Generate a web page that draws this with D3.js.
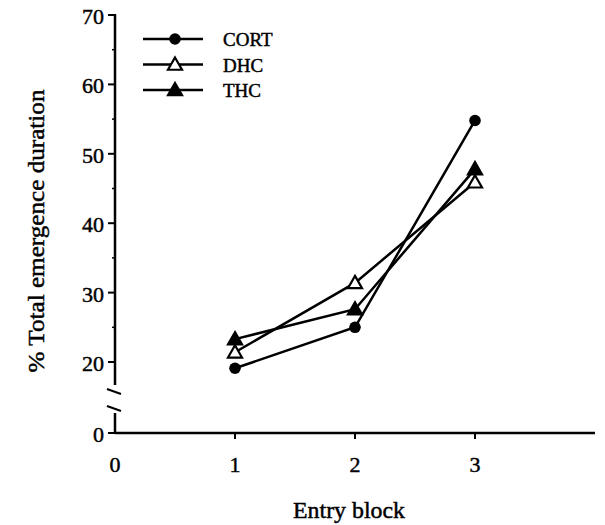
<!DOCTYPE html>
<html>
<head>
<meta charset="utf-8">
<script src="https://cdn.jsdelivr.net/npm/d3@7"></script>
<style>
  body { margin: 0; background: #fff; }
  text { font-family: "Liberation Serif", "DejaVu Serif", serif; fill: #000; stroke: #000; stroke-width: 0.45px; }
</style>
</head>
<body>
<svg id="chart" width="605" height="525"></svg>
<script>
// data
const blocks = [1, 2, 3];
const cort = [19.1, 25.0, 54.8];
const dhc = [21.4, 31.4, 45.9];
const thc = [23.3, 27.6, 47.8];
const seriesNames = ['CORT', 'DHC', 'THC'];
const xTicks = [0, 1, 2, 3];
const yTicks = [0, 20, 30, 40, 50, 60, 70];
const yMinor = [25, 35, 45, 55, 65];

const series = [
  { name: 'CORT', values: cort, marker: 'circle' },
  { name: 'DHC', values: dhc, marker: 'triangleOpen' },
  { name: 'THC', values: thc, marker: 'triangle' }
];

const svg = d3.select('#chart');

const x = d3.scaleLinear().domain([0, 4]).range([115, 595]);
// broken axis: the data part of the scale, plus the compressed 0..20 stretch below the break
const yTop = d3.scaleLinear().domain([20, 70]).range([362, 15]);
const yLow = d3.scaleLinear().domain([0, 20]).range([433, 362]);
const yTick = d => d < 20 ? yLow(d) : yTop(d);

// x axis
const xAxis = svg.append('g').attr('transform', 'translate(0,433)');
xAxis.append('line')
  .attr('x1', x(0)).attr('x2', x(4))
  .attr('stroke', '#000').attr('stroke-width', 2.5);
xAxis.selectAll('line.tick')
  .data(xTicks.slice(1))
  .join('line')
  .attr('class', 'tick')
  .attr('x1', d => x(d)).attr('x2', d => x(d))
  .attr('y1', 0).attr('y2', 6)
  .attr('stroke', '#000').attr('stroke-width', 2);
xAxis.selectAll('text')
  .data(xTicks)
  .join('text')
  .attr('x', d => x(d))
  .attr('y', 39)
  .attr('text-anchor', 'middle')
  .style('font-size', '22px')
  .text(d => d);

// y axis, drawn in two pieces around the break
const yAxis = svg.append('g');
yAxis.append('line')
  .attr('x1', 115).attr('x2', 115)
  .attr('y1', yTop(70) - 1).attr('y2', 385)
  .attr('stroke', '#000').attr('stroke-width', 2.5);
yAxis.append('line')
  .attr('x1', 115).attr('x2', 115)
  .attr('y1', 413).attr('y2', yLow(0))
  .attr('stroke', '#000').attr('stroke-width', 2.5);
// break slashes
[389, 406].forEach(yy => {
  yAxis.append('line')
    .attr('x1', 107).attr('y1', yy)
    .attr('x2', 121).attr('y2', yy + 5)
    .attr('stroke', '#000').attr('stroke-width', 2);
});
yAxis.selectAll('line.major')
  .data(yTicks)
  .join('line')
  .attr('class', 'major')
  .attr('x1', 108).attr('x2', 115)
  .attr('y1', d => yTick(d)).attr('y2', d => yTick(d))
  .attr('stroke', '#000').attr('stroke-width', 2);
yAxis.selectAll('line.minor')
  .data(yMinor)
  .join('line')
  .attr('class', 'minor')
  .attr('x1', 112).attr('x2', 115)
  .attr('y1', d => yTop(d)).attr('y2', d => yTop(d))
  .attr('stroke', '#000').attr('stroke-width', 1.5);
yAxis.selectAll('text')
  .data(yTicks)
  .join('text')
  .attr('x', 104)
  .attr('y', d => yTick(d) + 9)
  .attr('text-anchor', 'end')
  .style('font-size', '22px')
  .text(d => d);

// axis titles
svg.append('text')
  .attr('x', 349).attr('y', 518)
  .attr('text-anchor', 'middle')
  .attr('textLength', 112)
  .attr('lengthAdjust', 'spacingAndGlyphs')
  .style('font-size', '23px')
  .text('Entry block');
svg.append('text')
  .attr('transform', 'translate(44,231) rotate(-90)')
  .attr('text-anchor', 'middle')
  .attr('textLength', 283)
  .attr('lengthAdjust', 'spacingAndGlyphs')
  .style('font-size', '23px')
  .text('% Total emergence duration');

// markers
function drawMarker(g, type, cx, cy) {
  if (type === 'circle') {
    g.append('circle').attr('cx', cx).attr('cy', cy).attr('r', 5.8).attr('fill', '#000');
  } else {
    const s = 7;
    const pts = [[cx, cy - s], [cx + s, cy + s * 0.75], [cx - s, cy + s * 0.75]];
    g.append('polygon')
      .attr('points', pts.map(p => p.join(',')).join(' '))
      .attr('fill', type === 'triangle' ? '#000' : '#fff')
      .attr('stroke', '#000')
      .attr('stroke-width', 2.2)
      .attr('stroke-linejoin', 'miter');
  }
}

const line = d3.line()
  .x((d, i) => x(blocks[i]))
  .y(d => yTop(d));

const plot = svg.append('g');
series.forEach(s => {
  plot.append('path')
    .attr('d', line(s.values))
    .attr('fill', 'none')
    .attr('stroke', '#000')
    .attr('stroke-width', 2.5);
});
series.forEach(s => {
  s.values.forEach((v, i) => drawMarker(plot, s.marker, x(blocks[i]), yTop(v)));
});

// legend
const legend = svg.append('g').attr('class', 'legend');
series.forEach((s, i) => {
  const ly = 39 + i * 25.5;
  legend.append('line')
    .attr('x1', 143).attr('x2', 203)
    .attr('y1', ly).attr('y2', ly)
    .attr('stroke', '#000').attr('stroke-width', 2.5);
  drawMarker(legend, s.marker, 175, ly);
  legend.append('text')
    .attr('x', 223).attr('y', ly + 7)
    .style('font-size', '19px')
    .text(seriesNames[i]);
});
</script>
</body>
</html>
